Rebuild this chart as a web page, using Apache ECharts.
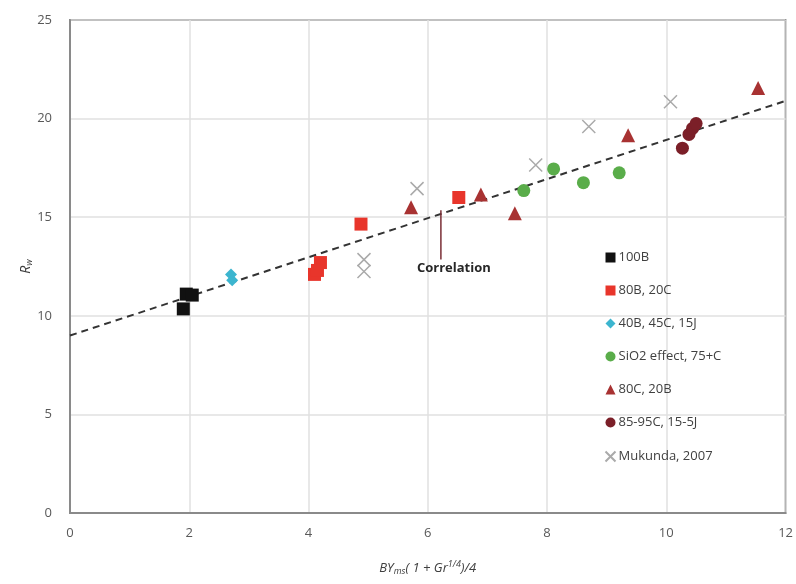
<!DOCTYPE html>
<html><head><meta charset="utf-8">
<script src="https://cdn.jsdelivr.net/npm/echarts@6/dist/echarts.min.js"></script>
<style>html,body{margin:0;padding:0;background:#fff}#c{width:796px;height:584px}</style>
</head><body><div id="c"></div>
<script>
const s100B = [[1.9,10.35],[1.95,11.1],[2.05,11.05]];
const s80B20C = [[4.1,12.1],[4.15,12.3],[4.2,12.7],[4.88,14.65],[6.52,16.0]];
const s40B45C = [[2.7,12.1],[2.72,11.8]];
const sSiO2 = [[7.61,16.35],[8.11,17.45],[8.61,16.75],[9.21,17.25]];
const s80C20B = [[5.72,15.5],[6.89,16.15],[7.46,15.2],[9.36,19.15],[11.54,21.55]];
const s8595C = [[10.27,18.5],[10.38,19.2],[10.44,19.5],[10.5,19.75]];
const sMukunda = [[4.93,12.85],[4.93,12.25],[5.82,16.45],[7.81,17.65],[8.7,19.6],[10.07,20.85]];
const correlation = [[0,9.0],[12,20.9]];
const pointer = [[6.22,15.35],[6.22,12.85]];
const xTicks = [0,2,4,6,8,10,12];
const yTicks = [0,5,10,15,20,25];

const chart = echarts.init(document.getElementById('c'));
const font = 'Open Sans';
function sc(name, data, symbol, color, size){
  return {name, type:'scatter', data, symbol, symbolSize:size, itemStyle:{color, opacity:1}, z:3};
}
chart.setOption({
  animation:false,
  grid:{left:70,right:9,top:20,bottom:71,show:true,borderColor:'#333',borderWidth:1.5},
  xAxis:{type:'value',min:0,max:12,interval:2,
    axisLine:{show:true,lineStyle:{color:'#8a8a8a',width:2}},
    axisTick:{show:false},
    splitLine:{show:true,lineStyle:{color:'#e0e0e0',width:1.5}},
    axisLabel:{color:'#595959',fontSize:13,fontFamily:font,margin:14},
    name:'{i|BY}{s|ms}{i|( 1 + Gr}{p|1/4}{i|)/4}', nameLocation:'middle', nameGap:47, nameMoveOverlap:false,
    nameTextStyle:{rich:{
      i:{fontStyle:'italic',fontSize:13,color:'#404040',fontFamily:font},
      s:{fontStyle:'italic',fontSize:9,color:'#404040',fontFamily:font,verticalAlign:'bottom',padding:[7,0,0,0]},
      p:{fontStyle:'italic',fontSize:9,color:'#404040',fontFamily:font,verticalAlign:'top',padding:[0,0,7,0]}
    }}
  },
  yAxis:{type:'value',min:0,max:25,interval:5,
    axisLine:{show:true,lineStyle:{color:'#8a8a8a',width:2}},
    axisTick:{show:false},
    splitLine:{show:true,lineStyle:{color:'#e0e0e0',width:1.5}},
    axisLabel:{color:'#595959',fontSize:13,fontFamily:font,margin:18},
    name:'{i|R}{s|w}', nameLocation:'middle', nameGap:36, nameRotate:90, nameMoveOverlap:false,
    nameTextStyle:{rich:{
      i:{fontStyle:'italic',fontSize:14,color:'#404040',fontFamily:font},
      s:{fontStyle:'italic',fontSize:9,color:'#404040',fontFamily:font,verticalAlign:'bottom',padding:[6,0,0,0]}
    }}
  },
  legend:{orient:'vertical',left:598,top:246,itemGap:20,itemWidth:10,itemHeight:10,
    textStyle:{fontSize:13,color:'#404040',fontFamily:font,padding:[0,0,0,-2]},
    data:['100B','80B, 20C','40B, 45C, 15J','SiO2 effect, 75+C','80C, 20B','85-95C, 15-5J','Mukunda, 2007']},
  series:[
    {name:'corr',type:'line',data:correlation,symbol:'none',lineStyle:{color:'#333',width:2,type:[7,5]},z:2,silent:true},
    {name:'ptr',type:'line',data:pointer,symbol:'none',lineStyle:{color:'#7a2e35',width:1.5},z:2,silent:true},
    sc('100B',s100B,'rect','#111111',13),
    sc('80B, 20C',s80B20C,'rect','#e8352b',13),
    sc('40B, 45C, 15J',s40B45C,'diamond','#3cb5cf',12),
    sc('SiO2 effect, 75+C',sSiO2,'circle','#5aad4a',13),
    sc('80C, 20B',s80C20B,'triangle','#a83232',14),
    sc('85-95C, 15-5J',s8595C,'circle','#7b1f28',13),
    {name:'Mukunda, 2007',type:'scatter',data:sMukunda,symbol:'path://M0,0 L10,10 M10,0 L0,10',symbolSize:13,
      itemStyle:{color:'none',borderColor:'#aaaaaa',borderWidth:1.5,opacity:1},z:3}
  ]
});
const p = chart.convertToPixel({gridIndex:0},[pointer[1][0],pointer[1][1]]);
chart.setOption({graphic:[{type:'text',left:p[0]-24,top:p[1]+2,style:{text:'Correlation',font:'bold 13px "Open Sans"',fill:'#262626'}}]});
</script></body></html>
